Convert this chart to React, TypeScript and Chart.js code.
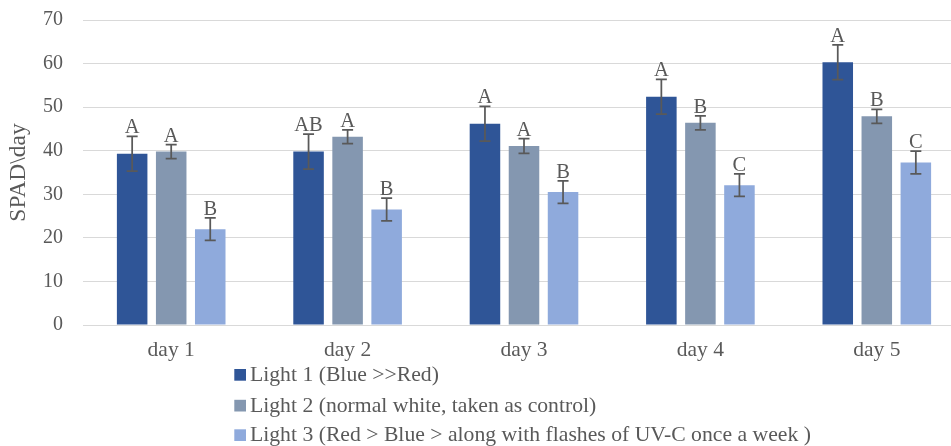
import React, { useEffect, useRef } from "react";
import { Chart, registerables } from "chart.js";

Chart.register(...registerables);

const categories = ["day 1", "day 2", "day 3", "day 4", "day 5"];
const seriesLabels = [
  "Light 1 (Blue >>Red)",
  "Light 2 (normal white, taken as control)",
  "Light 3 (Red > Blue > along with flashes of UV-C once a week )",
];
const light1 = [39.3, 39.8, 46.2, 52.4, 60.3];
const light2 = [39.8, 43.2, 41.1, 46.4, 47.9];
const light3 = [22.0, 26.5, 30.5, 32.1, 37.3];
const light1Err = [4.0, 4.0, 4.0, 4.0, 4.0];
const light2Err = [1.6, 1.6, 1.7, 1.6, 1.6];
const light3Err = [2.6, 2.6, 2.6, 2.6, 2.6];
const light1Letters = ["A", "AB", "A", "A", "A"];
const light2Letters = ["A", "A", "A", "B", "B"];
const light3Letters = ["B", "B", "B", "C", "C"];
const yTicks = [0, 10, 20, 30, 40, 50, 60, 70];
const colors = ["#2F5597", "#8497B0", "#8FAADC"];

const FONT = "'Liberation Serif', 'Times New Roman', serif";
const TEXT = "#595959";

const errors = [light1Err, light2Err, light3Err];
const letters = [light1Letters, light2Letters, light3Letters];

const errorPlugin = {
  id: "errorsLetters",
  afterDatasetsDraw(chart: any) {
    const ctx = chart.ctx;
    const y = chart.scales.y;
    ctx.save();
    chart.data.datasets.forEach((ds: any, i: number) => {
      const meta = chart.getDatasetMeta(i);
      meta.data.forEach((bar: any, j: number) => {
        const v = ds.data[j];
        const e = errors[i][j];
        const top = y.getPixelForValue(v + e);
        const bot = y.getPixelForValue(v - e);
        const x = bar.x;
        ctx.strokeStyle = "#595959";
        ctx.lineWidth = 1.75;
        ctx.beginPath();
        ctx.moveTo(x, top);
        ctx.lineTo(x, bot);
        ctx.moveTo(x - 5.5, top);
        ctx.lineTo(x + 5.5, top);
        ctx.moveTo(x - 5.5, bot);
        ctx.lineTo(x + 5.5, bot);
        ctx.stroke();
        ctx.fillStyle = TEXT;
        ctx.font = `20.5px ${FONT}`;
        ctx.textAlign = "center";
        ctx.textBaseline = "alphabetic";
        ctx.fillText(letters[i][j], x, top - 3);
      });
    });
    ctx.restore();
  },
};

const legendPlugin = {
  id: "vertLegend",
  afterDraw(chart: any) {
    const ctx = chart.ctx;
    const baselines = [380.7, 411.5, 441];
    ctx.save();
    chart.data.datasets.forEach((ds: any, i: number) => {
      const b = baselines[i];
      ctx.fillStyle = ds.backgroundColor;
      ctx.fillRect(234.3, b - 11.7, 11.7, 11.7);
      ctx.fillStyle = TEXT;
      ctx.font = `21.7px ${FONT}`;
      ctx.textAlign = "left";
      ctx.textBaseline = "alphabetic";
      ctx.fillText(ds.label, 250, b);
    });
    ctx.restore();
  },
};

export default function App() {
  const ref = useRef<HTMLCanvasElement | null>(null);
  useEffect(() => {
    document.body.style.margin = "0";
    const chart = new Chart(ref.current!, {
      type: "bar",
      data: {
        labels: categories,
        datasets: [light1, light2, light3].map((d, i) => ({
          label: seriesLabels[i],
          data: d,
          backgroundColor: colors[i],
          borderWidth: 0,
          categoryPercentage: 0.664,
          barPercentage: 0.782,
        })),
      },
      options: {
        animation: false,
        responsive: false,
        maintainAspectRatio: false,
        layout: { padding: { top: 20, bottom: 71, left: 0, right: 0 } },
        plugins: {
          legend: { display: false },
          tooltip: { enabled: false },
        },
        scales: {
          x: {
            grid: { display: false, drawTicks: false },
            border: { display: false },
            ticks: { color: TEXT, font: { family: FONT, size: 21.5 }, padding: 12 },
            afterFit: (s: any) => {
              s.height = 50;
              s.paddingLeft = 0;
              s.paddingRight = 0;
            },
          },
          y: {
            min: 0,
            max: 70,
            afterBuildTicks: (s: any) => {
              s.ticks = yTicks.map((v) => ({ value: v }));
            },
            grid: { color: "#D9D9D9", lineWidth: 1, drawTicks: false },
            border: { display: false },
            ticks: { color: TEXT, font: { family: FONT, size: 20 }, padding: 20 },
            title: {
              display: true,
              text: "SPAD\\day",
              color: TEXT,
              font: { family: FONT, size: 23.5 },
              padding: { top: 4.7, bottom: 0 },
            },
            afterFit: (s: any) => {
              s.width = 83;
              s.paddingTop = 0;
              s.paddingBottom = 0;
            },
          },
        },
      },
      plugins: [errorPlugin, legendPlugin],
    });
    return () => chart.destroy();
  }, []);
  return (
    <div style={{ width: 951, height: 446, overflow: "hidden", background: "#fff" }}>
      <canvas ref={ref} width={965} height={446} style={{ display: "block" }} />
    </div>
  );
}
